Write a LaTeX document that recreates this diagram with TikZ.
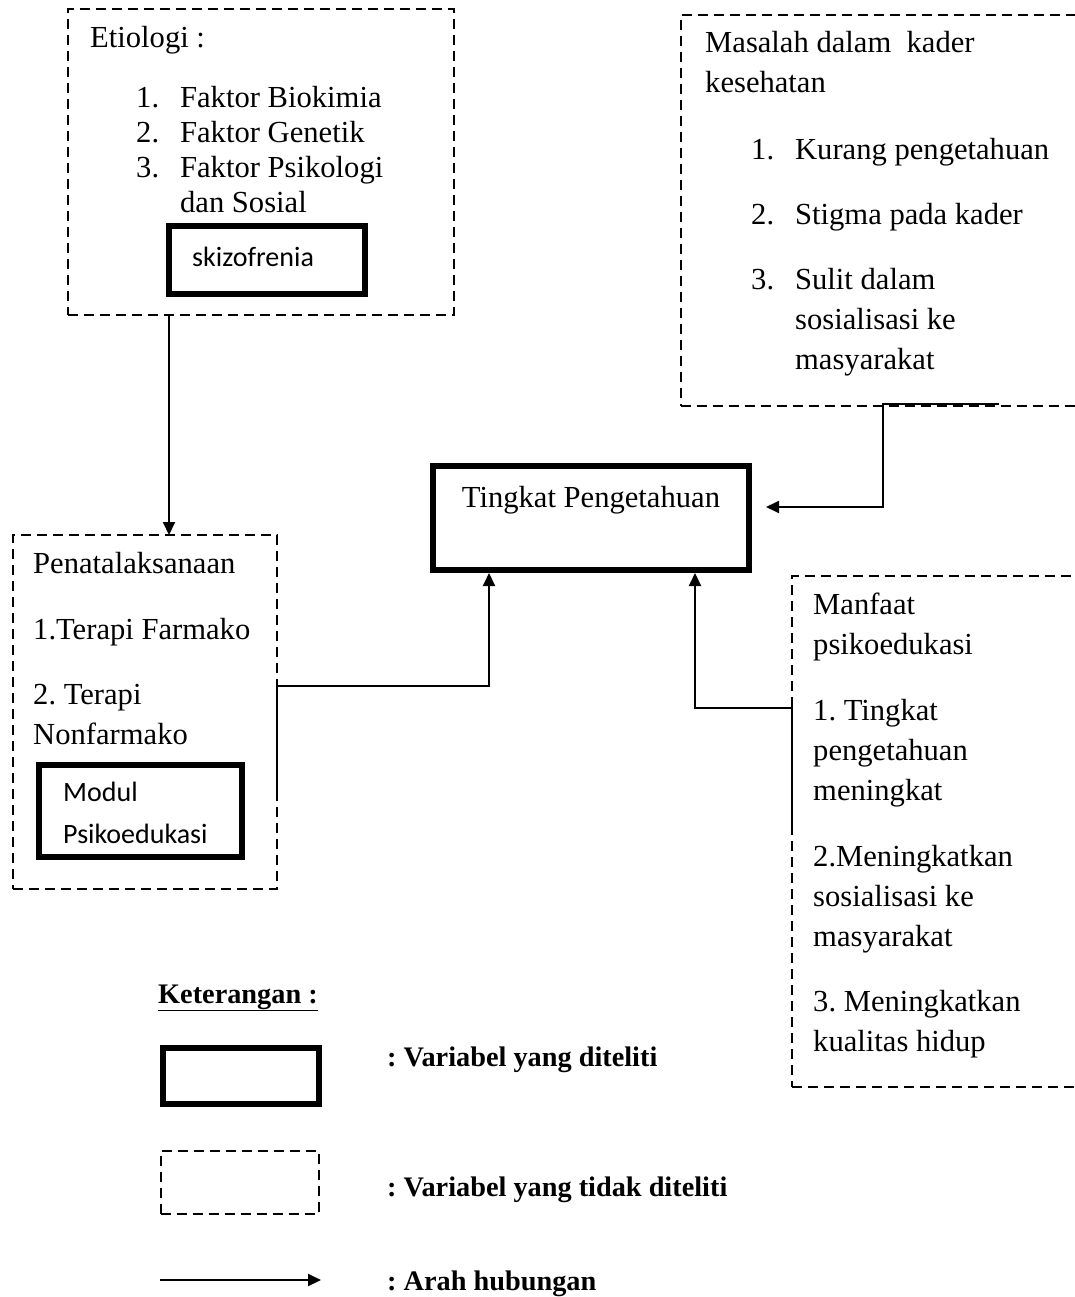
\documentclass[tikz,border=0pt]{standalone}
\usepackage{fontspec}
\setmainfont{Liberation Serif}
\newfontfamily\calibri{Carlito}
\usetikzlibrary{arrows.meta,positioning,calc}
\frenchspacing
\tikzset{
  varbox/.style={draw,line width=6.5pt,outer sep=0pt,inner sep=0pt,anchor=north west},
  novarbox/.style={draw,line width=2.2pt,dash pattern=on 10pt off 6pt,
                   outer sep=0pt,inner sep=0pt,anchor=north west},
  txt/.style={inner sep=0pt,anchor=base west,font=\fontsize{30.6}{40}\selectfont},
  caltxt/.style={txt,font=\calibri\fontsize{28}{42}\selectfont},
  legtxt/.style={txt,font=\fontsize{28.3}{34}\selectfont\bfseries},
  link/.style={line width=2pt,-{Triangle[length=13pt,width=12pt]}},
}
% one column of lines, baseline at the first line
\newcommand{\rows}[1]{\begin{tabular}[t]{@{}l@{}}#1\end{tabular}}
% numbered list with hanging lines
\newcommand{\items}[1]{\begin{tabular}[t]{@{}l@{\hspace{21pt}}l@{}}#1\end{tabular}}

\begin{document}
\begin{tikzpicture}[x=1pt,y=-1pt]
  \useasboundingbox (0,0) rectangle (1075,1297);
  \clip (0,0) rectangle (1075,1297);

  % boxes
  \node[novarbox,minimum width=386pt,minimum height=306pt] (etio) at (68,9) {};
  \node[varbox,minimum width=196pt,minimum height=68pt] (skz) at (169,226) {};
  \node[novarbox,minimum width=450pt,minimum height=391pt] (masa) at (681,15) {};
  \node[novarbox,minimum width=264pt,minimum height=354pt] (pena) at (13,535) {};
  \node[varbox,minimum width=203pt,minimum height=92pt] (modul) at (39,765) {};
  \node[varbox,minimum width=316pt,minimum height=104pt] (tp) at (433,466) {};
  \node[novarbox,minimum width=340pt,minimum height=511pt] (manf) at (792,576) {};

  % texts
  \node[txt] (etiot) at (90,48) {Etiologi :};
  \node[txt,font=\fontsize{30.6}{35}\selectfont] (etiol) at (136,108)
    {\items{1. & Faktor Biokimia\\ 2. & Faktor Genetik\\ 3. & Faktor Psikologi\\ & dan Sosial}};
  \node[caltxt] (skzt) at (192,266) {skizofrenia};
  \node[txt] (masat) at (705,53) {\rows{Masalah dalam~~kader\\ kesehatan}};
  \node[txt] (masal) at (751,160)
    {\items{1. & Kurang pengetahuan\\[25pt] 2. & Stigma pada kader\\[25pt]
            3. & Sulit dalam\\ & sosialisasi ke\\ & masyarakat}};
  \node[txt] (penat) at (33,573)
    {\rows{Penatalaksanaan\\[26pt] 1.Terapi Farmako\\[25pt] 2. Terapi\\ Nonfarmako}};
  \node[caltxt] (modult) at (63,801) {\rows{Modul\\ Psikoedukasi}};
  \node[txt,anchor=base] (tpt) at ([yshift=-41pt]tp.north) {Tingkat Pengetahuan};
  \node[txt] (manft) at (813,614)
    {\rows{Manfaat\\ psikoedukasi\\[26pt] 1. Tingkat\\ pengetahuan\\ meningkat\\[26pt]
           2.Meningkatkan\\ sosialisasi ke\\ masyarakat\\[25pt] 3. Meningkatkan\\ kualitas hidup}};

  % connectors
  \draw[link] (etio.south -| skz.west) -- (pena.north -| skz.west);
  \coordinate (k1) at (489,686);
  \draw[link,shorten >=3pt] ([yshift=-86pt]pena.east) |- (k1) -- (k1 |- tp.south);
  \coordinate (k2) at (695,708);
  \draw[link,shorten >=3pt] (manf.west) |- (k2) -- (k2 |- tp.south);
  \coordinate (k3) at (883,507);
  \coordinate (k4) at (999,404);
  \draw[link,shorten >=17pt] (k4) -| (k3) -- (k3 -| tp.east);

  % legend
  \node[legtxt] (leg) at (158,1003) {\underline{Keterangan :}};
  \node[varbox,minimum width=156pt,minimum height=56pt] (legvar) at (163,1048) {};
  \node[novarbox,minimum width=158pt,minimum height=63pt] (legnovar) at (161,1151) {};
  \coordinate (la) at (160,1280);
  \coordinate (lb) at (321,1280);
  \draw[link] (la) -- (lb);
  \node[legtxt] (legvart) at (387,1066) {: Variabel yang diteliti};
  \node[legtxt] (legnovart) at (387,1196) {: Variabel yang tidak diteliti};
  \node[legtxt] (legarrt) at (387,1290) {: Arah hubungan};
\end{tikzpicture}
\end{document}
